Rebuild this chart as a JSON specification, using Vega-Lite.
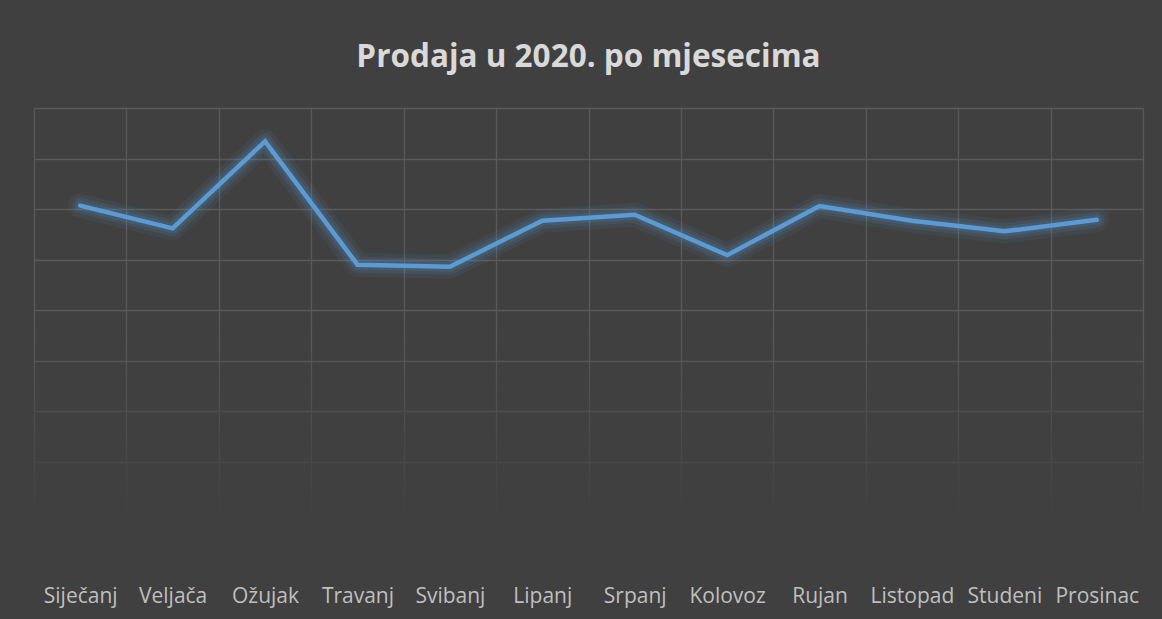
{
  "$schema": "https://vega.github.io/schema/vega-lite/v6.json",
  "autosize": "none",
  "width": 1109,
  "height": 455,
  "padding": {"left": 34, "top": 108, "right": 19, "bottom": 56},
  "background": "#404040",
  "title": {
    "text": "Prodaja u 2020. po mjesecima",
    "font": "Open Sans",
    "fontSize": 31.5,
    "fontWeight": "bold",
    "color": "#d9d9d9",
    "anchor": "middle",
    "baseline": "alphabetic",
    "offset": 10
  },
  "config": {
    "view": {"stroke": null},
    "axis": {"domain": false, "ticks": false, "tickSize": 0, "gridColor": "#5a5a5a", "gridWidth": 1.3}
  },
  "data": {
    "values": [
      {"mjesec": "Siječanj", "prodaja": 70700},
      {"mjesec": "Veljača", "prodaja": 66200},
      {"mjesec": "Ožujak", "prodaja": 83400},
      {"mjesec": "Travanj", "prodaja": 59000},
      {"mjesec": "Svibanj", "prodaja": 58600},
      {"mjesec": "Lipanj", "prodaja": 67700},
      {"mjesec": "Srpanj", "prodaja": 68900},
      {"mjesec": "Kolovoz", "prodaja": 60900},
      {"mjesec": "Rujan", "prodaja": 70600},
      {"mjesec": "Listopad", "prodaja": 67700},
      {"mjesec": "Studeni", "prodaja": 65600},
      {"mjesec": "Prosinac", "prodaja": 67900}
    ]
  },
  "layer": [
    {
      "data": {"values": [{"lijevo": -0.01, "desno": 1.01, "od": -3000, "do": 48000}]},
      "mark": {
        "type": "rect",
        "fill": {
          "gradient": "linear",
          "x1": 0, "y1": 1, "x2": 0, "y2": 0,
          "stops": [
            {"offset": 0, "color": "#404040"},
            {"offset": 0.22, "color": "#404040"},
            {"offset": 1, "color": "rgba(64,64,64,0)"}
          ]
        }
      },
      "encoding": {
        "x": {"field": "lijevo", "type": "quantitative", "scale": {"domain": [0, 1], "nice": false, "zero": false}, "axis": null},
        "x2": {"field": "desno"},
        "y": {
          "field": "od",
          "type": "quantitative",
          "scale": {"domain": [0, 90000], "nice": false},
          "axis": {
            "title": null,
            "labels": false,
            "grid": true,
            "values": [0, 10000, 20000, 30000, 40000, 50000, 60000, 70000, 80000, 90000]
          }
        },
        "y2": {"field": "do"}
      }
    },
    {
      "encoding": {
        "x": {
          "field": "mjesec",
          "type": "ordinal",
          "sort": null,
          "bandPosition": 0.5,
          "scale": {"type": "band", "paddingInner": 0, "paddingOuter": 0},
          "axis": {
            "title": null,
            "grid": true,
            "tickBand": "extent",
            "labelAngle": 0,
            "labelFont": "Open Sans",
            "labelFontSize": 21,
            "labelColor": "#bfbfbf",
            "labelPadding": 22,
            "labelBaseline": "top"
          }
        },
        "y": {
          "field": "prodaja",
          "type": "quantitative",
          "scale": {"domain": [0, 90000], "nice": false},
          "axis": {
            "title": null,
            "labels": false,
            "grid": true,
            "values": [0, 10000, 20000, 30000, 40000, 50000, 60000, 70000, 80000, 90000]
          }
        }
      },
      "layer": [
        {"mark": {"type": "line", "color": "#5B9BD5", "strokeWidth": 24, "opacity": 0.08, "strokeJoin": "round", "strokeCap": "round"}},
        {"mark": {"type": "line", "color": "#5B9BD5", "strokeWidth": 16, "opacity": 0.11, "strokeJoin": "round", "strokeCap": "round"}},
        {"mark": {"type": "line", "color": "#5B9BD5", "strokeWidth": 10, "opacity": 0.14, "strokeJoin": "round", "strokeCap": "round"}},
        {"mark": {"type": "line", "color": "#5B9BD5", "strokeWidth": 4.5, "strokeJoin": "miter", "strokeCap": "round"}}
      ]
    }
  ],
  "resolve": {"scale": {"x": "independent"}}
}
